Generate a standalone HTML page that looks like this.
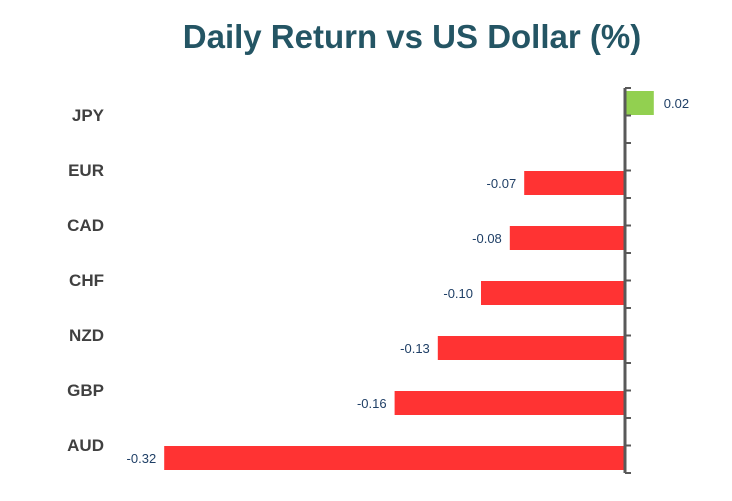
<!DOCTYPE html>
<html><head><meta charset="utf-8"><style>
body{margin:0;background:#fff;width:732px;height:496px;overflow:hidden;font-family:"Liberation Sans",sans-serif}
</style></head><body>
<svg width="732" height="496">
<text x="412" y="48" text-anchor="middle" font-size="33" font-weight="bold" fill="#245564">Daily Return vs US Dollar (%)</text>
<g id="bars"></g>
</svg>
<script>
const categories=["JPY","EUR","CAD","CHF","NZD","GBP","AUD"];
const values=[0.02,-0.07,-0.08,-0.10,-0.13,-0.16,-0.32];
const valueLabels=["0.02","-0.07","-0.08","-0.10","-0.13","-0.16","-0.32"];
const ns="http://www.w3.org/2000/svg";
const svg=document.querySelector("svg");
const axisX=625,top0=88,band=55,scale=1440;
const xs=v=>axisX+v*scale;
function mk(t,a){const e=document.createElementNS(ns,t);for(const k in a)e.setAttribute(k,a[k]);svg.appendChild(e);return e;}
categories.forEach((c,i)=>{
 const bt=top0+band*i;
 const t=mk("text",{x:104,y:bt+33,"text-anchor":"end","font-size":17,"font-weight":"bold",fill:"#404040"});
 t.textContent=c;
 
 
 const v=values[i];
 const y=v>=0?bt+3:bt+28;
 const x0=Math.min(xs(v),axisX),w=Math.abs(xs(v)-axisX);
 const r=mk("rect",{x:x0,y:y,width:w,height:24,fill:v>=0?"#92d050":"#ff3333"});
 
 
 const l=mk("text",{x:v>=0?xs(v)+10:xs(v)-8,y:y+17,"text-anchor":v>=0?"start":"end","font-size":13,fill:"#1f3f66"});
 l.textContent=valueLabels[i];
 
 
});
const ax=mk("line",{x1:axisX,y1:top0,x2:axisX,y2:top0+band*categories.length,stroke:"#595959","stroke-width":3});


for(let k=0;k<=categories.length*2;k++){
 const y=top0+k*band/2;
 const tk=mk("line",{x1:axisX,y1:y,x2:axisX+6,y2:y,stroke:"#595959","stroke-width":2});
 
 
}
</script>
</body></html>
